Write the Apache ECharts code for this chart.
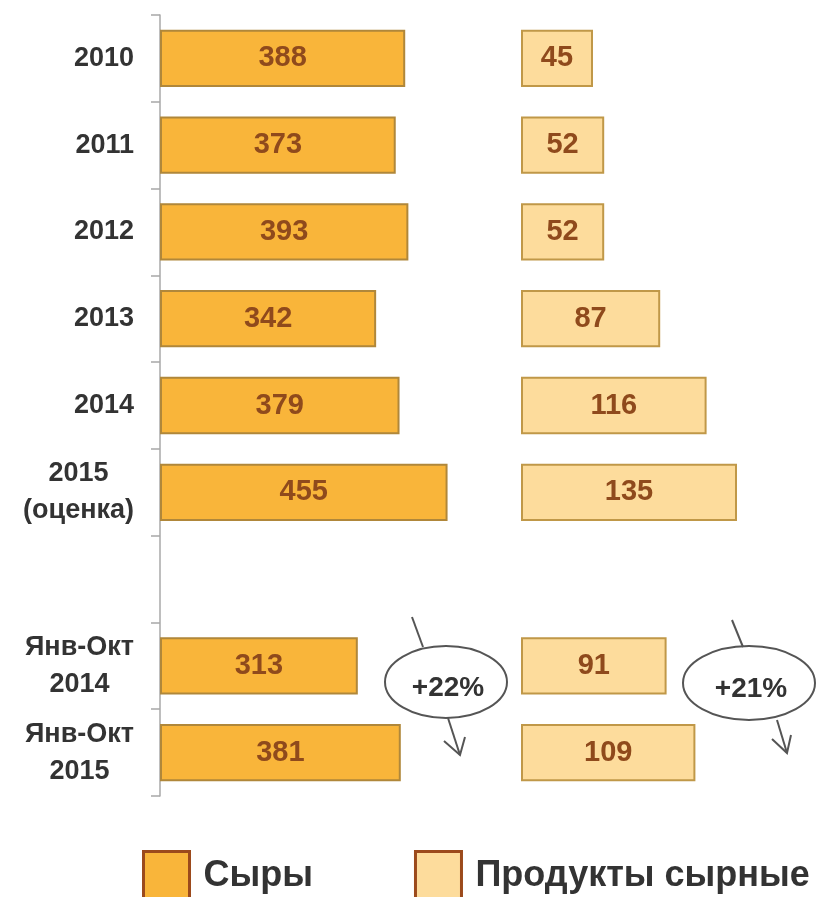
<!DOCTYPE html>
<html>
<head>
<meta charset="utf-8">
<script src="https://cdn.jsdelivr.net/npm/echarts@6/dist/echarts.min.js"></script>
<style>
  html, body { margin: 0; padding: 0; background: #fff; }
  #chart { width: 823px; height: 897px; }
</style>
</head>
<body>
<div id="chart"></div>
<script>
// категории (пустая строка — разрыв между годами и периодами)
const categories = ['2010', '2011', '2012', '2013', '2014', '2015\n(оценка)', '', 'Янв-Окт\n2014', 'Янв-Окт\n2015']
const cheese = [388, 373, 393, 342, 379, 455, null, 313, 381]
const cheeseProducts = [45, 52, 52, 87, 116, 135, null, 91, 109]
const seriesNames = ['Сыры', 'Продукты сырные']
const growthLabels = ['+22%', '+21%']

const FONT = '"Liberation Sans", Arial, sans-serif'
const chart = echarts.init(document.getElementById('chart'))

const barLabel = {
  show: true,
  position: 'inside',
  color: '#8f4a1c',
  fontFamily: FONT,
  fontWeight: 'bold',
  fontSize: 29,
}

function annotation(cx, cy, rx, ry, text, top, shaft, head) {
  return [
    {
      type: 'ellipse',
      shape: { cx: cx, cy: cy, rx: rx, ry: ry },
      style: { fill: 'rgba(255,255,255,0)', stroke: '#555', lineWidth: 2 },
    },
    {
      type: 'line',
      shape: { x1: top[0], y1: top[1], x2: top[2], y2: top[3] },
      style: { stroke: '#555', lineWidth: 2 },
    },
    {
      type: 'line',
      shape: { x1: shaft[0], y1: shaft[1], x2: shaft[2], y2: shaft[3] },
      style: { stroke: '#555', lineWidth: 2 },
    },
    {
      type: 'polyline',
      shape: { points: head },
      style: { stroke: '#555', lineWidth: 2, fill: null },
    },
    {
      type: 'text',
      style: {
        x: cx + 2,
        y: cy + 6,
        text: text,
        fill: '#333',
        font: 'bold 28px ' + FONT,
        align: 'center',
        verticalAlign: 'middle',
      },
    },
  ]
}

const option = {
  animation: false,
  backgroundColor: '#fff',
  legend: {
    data: [
      { name: seriesNames[0], itemStyle: { color: '#f9b53a', borderColor: '#9c4a1c', borderWidth: 3 } },
      { name: seriesNames[1], itemStyle: { color: '#fddc9c', borderColor: '#9c4a1c', borderWidth: 3 } },
    ],
    left: 137,
    top: 845,
    width: 800,
    icon: 'rect',
    itemWidth: 46,
    itemHeight: 49,
    itemGap: 101,
    textStyle: {
      color: '#333',
      fontFamily: FONT,
      fontWeight: 'bold',
      fontSize: 36,
      padding: [0, 0, 0, 9],
    },
  },
  grid: [
    { left: 160, top: 15, bottom: 101, width: 316 },
    { left: 521, top: 15, bottom: 101, width: 288 },
  ],
  xAxis: [
    { type: 'value', gridIndex: 0, min: 0, max: 500, show: false },
    { type: 'value', gridIndex: 1, min: 0, max: 180, show: false },
  ],
  yAxis: [
    {
      type: 'category',
      gridIndex: 0,
      inverse: true,
      data: categories,
      axisLine: { show: true, lineStyle: { color: '#a8a8a8', width: 1.5 } },
      axisTick: { show: true, interval: 0, length: 9, lineStyle: { color: '#a8a8a8', width: 1.5 } },
      axisLabel: {
        margin: 26,
        interval: 0,
        formatter: (value) => value.split('\n').map((s) => '{c|' + s + '}').join('\n'),
        rich: {
          c: {
            align: 'center',
            color: '#333',
            fontFamily: FONT,
            fontWeight: 'bold',
            fontSize: 27,
            lineHeight: 37,
          },
        },
      },
    },
    {
      type: 'category',
      gridIndex: 1,
      inverse: true,
      data: categories,
      show: false,
    },
  ],
  series: [
    {
      name: seriesNames[0],
      type: 'bar',
      xAxisIndex: 0,
      yAxisIndex: 0,
      barWidth: '66%',
      data: cheese,
      itemStyle: { color: '#f9b53a', borderColor: '#b0873a', borderWidth: 2 },
      label: barLabel,
    },
    {
      name: seriesNames[1],
      type: 'bar',
      xAxisIndex: 1,
      yAxisIndex: 1,
      barWidth: '66%',
      data: cheeseProducts,
      itemStyle: { color: '#fddc9c', borderColor: '#c09848', borderWidth: 2 },
      label: barLabel,
    },
  ],
  graphic: [].concat(
    annotation(446, 682, 61, 36, growthLabels[0],
      [412, 617, 423, 647], [448, 718, 460, 755], [[444, 741], [460, 755], [465, 737]]),
    annotation(749, 683, 66, 37, growthLabels[1],
      [732, 620, 743, 647], [777, 720, 787, 753], [[772, 739], [787, 753], [791, 735]])
  ),
}

chart.setOption(option)
</script>
</body>
</html>
